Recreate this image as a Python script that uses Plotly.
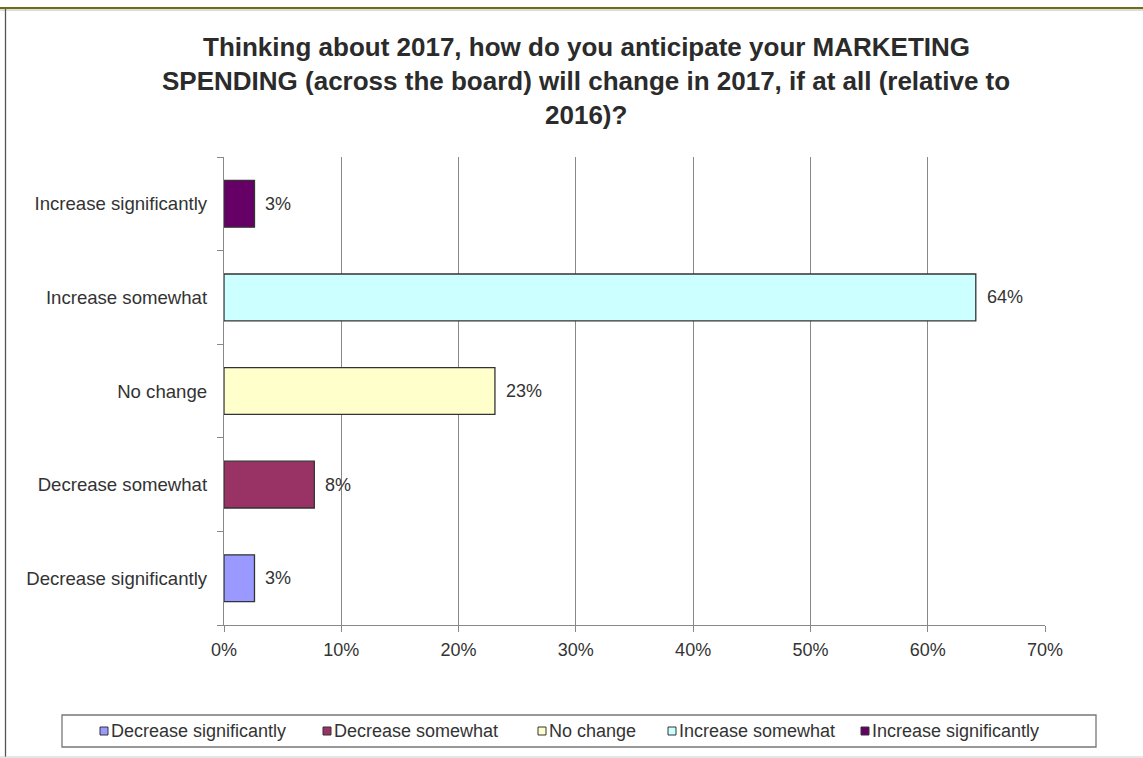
import plotly.graph_objects as go

# Survey answers (bottom to top on the chart) and their shares
categories = [
    "Decrease significantly",
    "Decrease somewhat",
    "No change",
    "Increase somewhat",
    "Increase significantly",
]
shares = [0.026, 0.077, 0.231, 0.641, 0.026]
colors = ["#9999FF", "#993366", "#FFFFCC", "#CCFFFF", "#660066"]

title_lines = [
    "Thinking about 2017, how do you anticipate your MARKETING",
    "SPENDING (across the board) will change in 2017, if at all (relative to",
    "2016)?",
]

W, H = 1143, 758
L, R, T, B = 224, 98, 157, 133
PW, PH = W - L - R, H - T - B


def px_x(X):
    return (X - L) / PW


def px_y(Y):
    return (H - B - Y) / PH


FONT = "Liberation Sans, Arial, sans-serif"
TXT = "#333333"
FS = 18

fig = go.Figure()

for cat, val, col in zip(categories, shares, colors):
    fig.add_trace(go.Bar(
        y=[cat], x=[val], orientation="h", name=cat,
        marker=dict(color=col, line=dict(color="#333333", width=1.3)),
        width=0.5, showlegend=False,
    ))
    fig.add_annotation(
        x=val, y=cat, xref="x", yref="y", text=f"{val:.0%}",
        showarrow=False, xanchor="left", xshift=9,
        font=dict(family=FONT, size=FS, color=TXT),
    )

shapes = []
# outer frame of the chart
shapes.append(dict(type="line", xref="paper", yref="paper",
                   x0=px_x(0), x1=px_x(W), y0=px_y(10), y1=px_y(10),
                   line=dict(color="#BBBBBB", width=1)))
shapes.append(dict(type="line", xref="paper", yref="paper",
                   x0=px_x(0), x1=px_x(W), y0=px_y(8), y1=px_y(8),
                   line=dict(color="#6E6E14", width=2)))
shapes.append(dict(type="line", xref="paper", yref="paper",
                   x0=px_x(5.5), x1=px_x(5.5), y0=px_y(9), y1=px_y(757),
                   line=dict(color="#555555", width=1.3)))
shapes.append(dict(type="line", xref="paper", yref="paper",
                   x0=px_x(0), x1=px_x(W), y0=px_y(757), y1=px_y(757),
                   line=dict(color="#CCCCCC", width=1)))

# legend box
shapes.append(dict(type="rect", xref="paper", yref="paper",
                   x0=px_x(62), x1=px_x(1096), y0=px_y(715), y1=px_y(747),
                   line=dict(color="#777777", width=1.3), fillcolor="white"))

legend_x = [100, 323, 538, 668, 861]
for lx, cat, col in zip(legend_x, categories, colors):
    shapes.append(dict(type="rect", xref="paper", yref="paper",
                       x0=px_x(lx), x1=px_x(lx + 8), y0=px_y(727), y1=px_y(735),
                       line=dict(color="#333333", width=1), fillcolor=col))
    fig.add_annotation(
        x=px_x(lx + 9), y=px_y(731), xref="paper", yref="paper",
        text=cat, showarrow=False, xanchor="left", yanchor="middle",
        font=dict(family=FONT, size=FS, color=TXT),
    )

for i, line in enumerate(title_lines):
    fig.add_annotation(
        x=px_x(586), y=px_y(47 + 34 * i), xref="paper", yref="paper",
        text=f"<b>{line}</b>", showarrow=False, xanchor="center", yanchor="middle",
        font=dict(family=FONT, size=26, color="#2B2B2B"),
    )

fig.update_layout(
    width=W, height=H,
    margin=dict(l=L, r=R, t=T, b=B, pad=0),
    paper_bgcolor="white", plot_bgcolor="white",
    barmode="overlay",
    showlegend=False,
    shapes=shapes,
    font=dict(family=FONT, size=FS, color=TXT),
    xaxis=dict(
        range=[0, 0.7], dtick=0.1, tickformat=".0%",
        showgrid=True, gridcolor="#888888", gridwidth=1.3,
        showline=True, linecolor="#888888", linewidth=1.3,
        ticks="outside", ticklen=6, tickcolor="#888888", tickwidth=1.3,
        zeroline=False, fixedrange=True, ticklabelstandoff=2,
        tickfont=dict(family=FONT, size=FS, color=TXT),
    ),
    yaxis=dict(
        type="category", categoryorder="array", categoryarray=categories,
        showgrid=False, showline=True, linecolor="#888888", linewidth=1.3,
        ticks="outside", ticklen=6, tickcolor="#888888", tickwidth=1.3,
        tickson="boundaries", zeroline=False, fixedrange=True,
        ticklabelstandoff=12,
        tickfont=dict(family=FONT, size=18.6, color=TXT),
    ),
)

fig.write_html("out.html")
